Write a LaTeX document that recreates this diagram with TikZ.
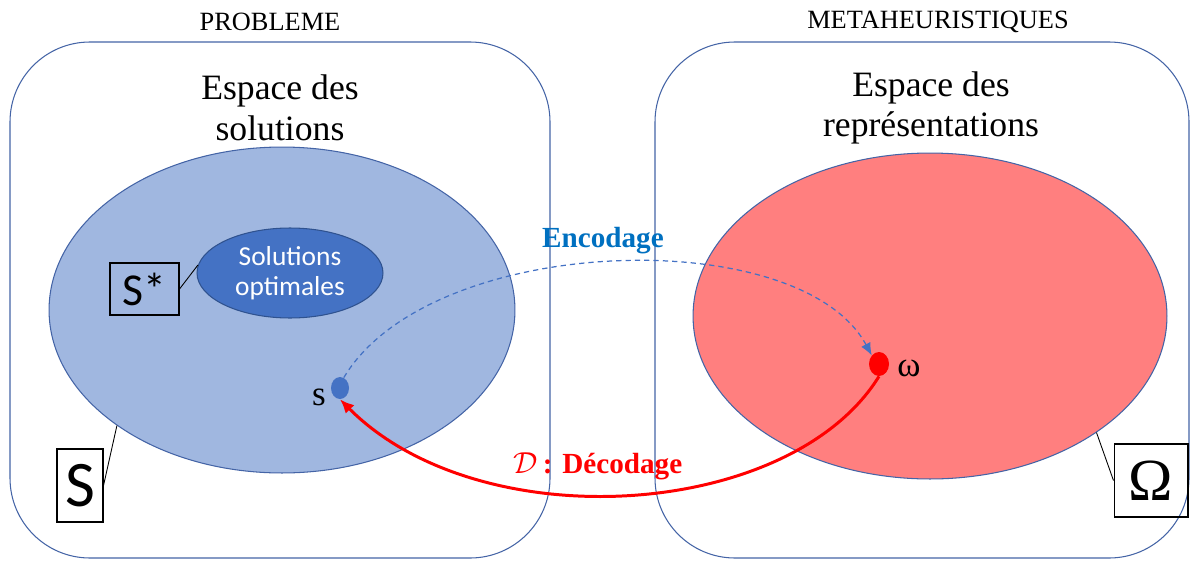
\documentclass[tikz,border=0pt]{standalone}
\usepackage{fontspec}
\setmainfont{Liberation Serif}
\newfontfamily\calibrifont{Carlito}
\usepackage{tikz}
\usetikzlibrary{shapes.geometric,arrows.meta}
\definecolor{frameblue}{RGB}{68,100,166}
\definecolor{solblue}{RGB}{160,183,224}
\definecolor{optblue}{RGB}{68,114,196}
\definecolor{optborder}{RGB}{47,82,143}
\definecolor{repred}{RGB}{255,127,127}
\definecolor{encblue}{RGB}{0,112,192}
\definecolor{decred}{RGB}{255,0,0}

\begin{document}
\begin{tikzpicture}[x=0.02cm,y=-0.02cm]
	\tikzstyle{space}=[ellipse,draw=frameblue,line width=0.6pt,inner sep=0pt,minimum height=6.52cm]
	\tikzstyle{setbox}=[rectangle,draw=black,line width=0.6pt,inner sep=0pt]
	\tikzstyle{dot}=[ellipse,inner sep=0pt]
	\tikzstyle{title}=[font=\fontsize{15}{18}\selectfont]
	\tikzstyle{heading}=[align=center,font=\fontsize{20.3}{23}\selectfont]
	\useasboundingbox (0,0) rectangle (1192,561);
	\draw[frameblue,line width=0.6pt,rounded corners=1.6cm] (10,42) rectangle (550,558);
	\draw[frameblue,line width=0.6pt,rounded corners=1.6cm] (655,42) rectangle (1189,558);
	\node[title](probTitle) at (270,22) {PROBLEME};
	\node[title](metaTitle) at (938,22) {METAHEURISTIQUES};
	\node[heading](solHead) at (280,108) {Espace des\\solutions};
	\node[heading](repHead) at (931,108) {Espace des\\représentations};
	\node[space,fill=solblue,minimum width=9.32cm](solSpace) at (282,310) {};
	\node[space,fill=repred,minimum width=9.48cm](repSpace) at (930,316) {};
	\node[ellipse,draw=optborder,line width=0.6pt,fill=optblue,inner sep=0pt,
		minimum width=3.72cm,minimum height=1.8cm,align=center,text=white,
		font=\calibrifont\fontsize{15.6}{16.8}\selectfont](optSol) at (290,273) {Solutions\\optimales};
	\node[dot,fill=optblue,minimum width=0.36cm,minimum height=0.44cm](dotS) at (340,388) {};
	\node[dot,fill=decred,minimum width=0.4cm,minimum height=0.48cm](dotW) at (879,364) {};
	\node[font=\fontsize{20}{24}\selectfont](sLbl) at (319,397) {s};
	\node[font=\fontsize{20}{24}\selectfont](wLbl) at (909,368) {ω};
	\node[setbox,minimum width=1.38cm,minimum height=1.04cm,font=\calibrifont\fontsize{26}{30}\selectfont](boxSstar) at (144.5,289) {S*};
	\node[setbox,minimum width=0.92cm,minimum height=1.46cm,font=\calibrifont\fontsize{37}{42}\selectfont](boxS) at (80,485.5) {S};
	\node[setbox,minimum width=1.48cm,minimum height=1.46cm,font=\fontsize{34}{38}\selectfont](boxOmega) at (1151,480.5) {Ω};
	\path[-,draw=black,line width=0.5pt]
		(boxSstar.east) edge (optSol.175)
		(boxS.east) edge (solSpace.215)
		(boxOmega.west) edge (repSpace.325);
	\draw[optblue,line width=0.7pt,dash pattern=on 3pt off 2.3pt,-{Latex[length=7pt,width=6pt]}]
		(dotS.70) .. controls (430,233) and (800,222) .. (dotW.north west);
	\draw[decred,line width=1.7pt,-{Latex[length=8pt,width=7pt]}]
		(dotW.south) .. controls (790,520) and (480,540) .. (dotS.south);
	\node[text=encblue,font=\bfseries\fontsize{16.6}{20}\selectfont](encLbl) at (603,241) {Encodage};
	\node[text=decred,font=\bfseries\fontsize{16.6}{20}\selectfont](decLbl) at (598,466) {$\mathcal{D}$\,: Décodage};
\end{tikzpicture}
\end{document}
